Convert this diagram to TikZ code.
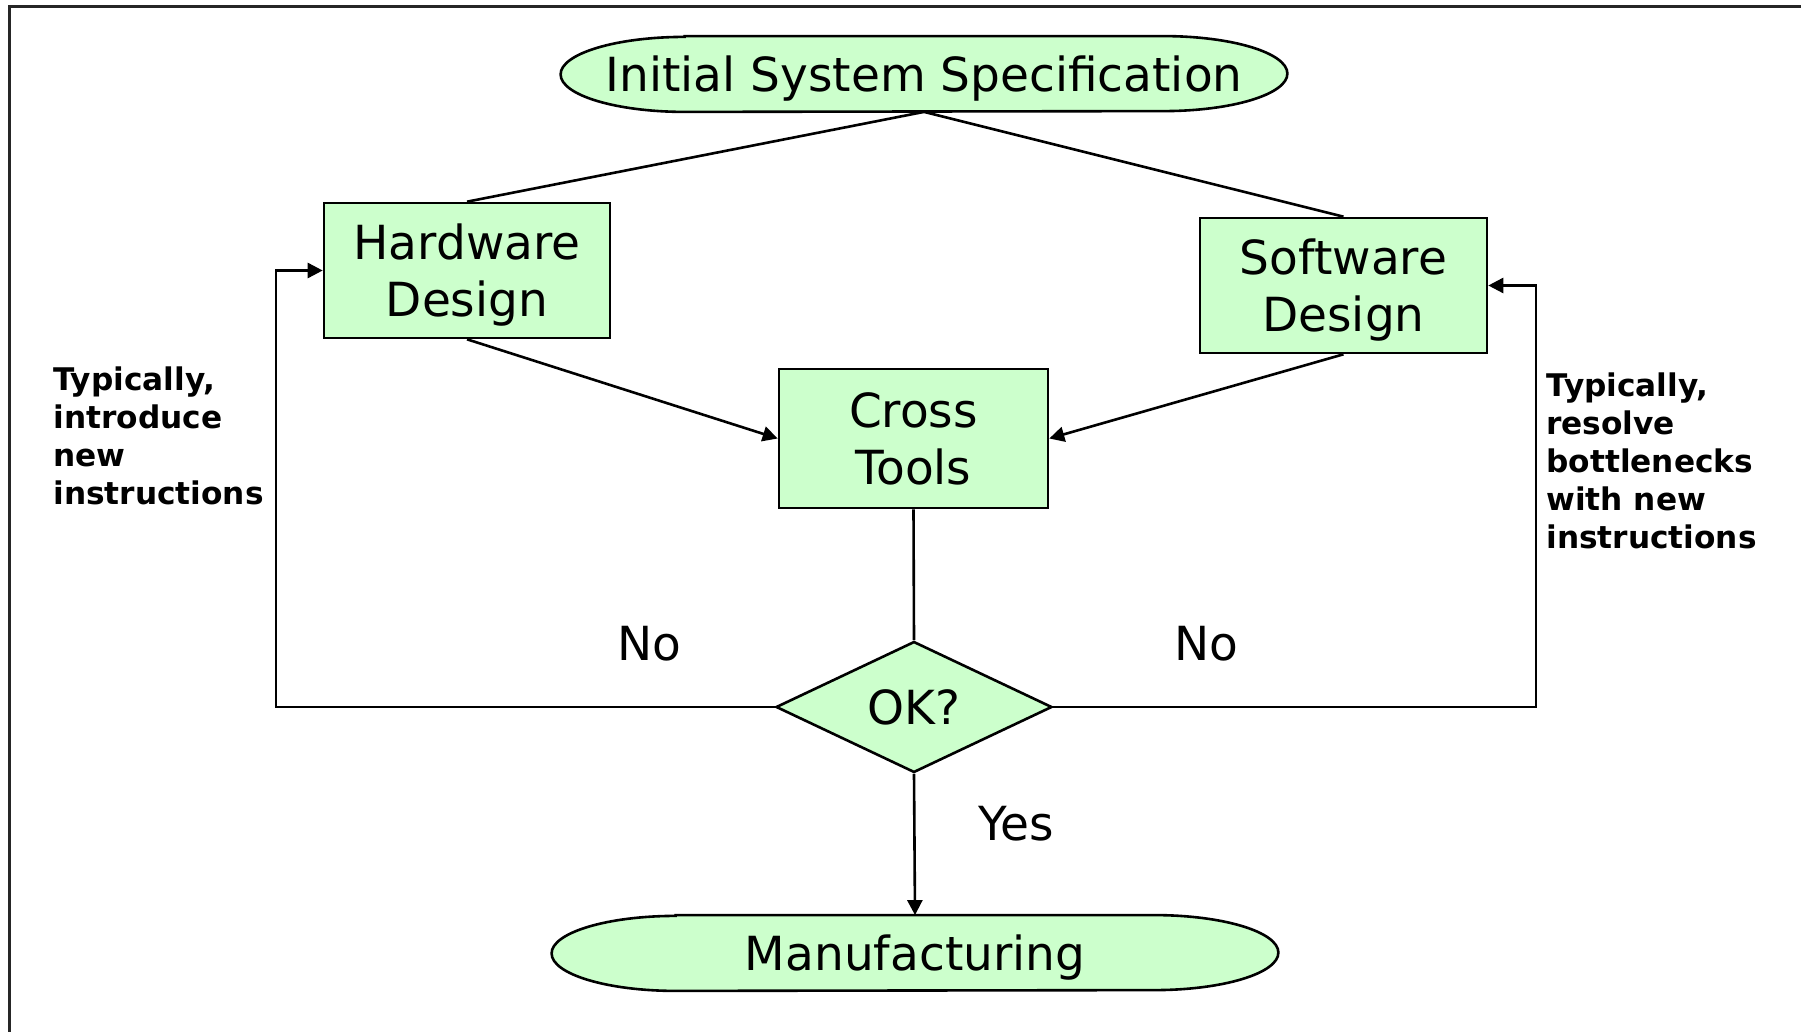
\documentclass[tikz,border=0pt]{standalone}
\usepackage{fontspec}
\setmainfont{DejaVu Sans}
\usepackage{xcolor}
\usepackage{tikz}
\usetikzlibrary{arrows.meta, shapes.geometric, calc, backgrounds}
\definecolor{specgreen}{RGB}{204,255,204}

\begin{document}
\begin{tikzpicture}[
  x=0.5pt, y=-0.5pt,
  box/.style={rectangle, draw=black, line width=1.3pt, fill=specgreen,
    align=center, inner sep=0pt, text depth=0pt,
    font=\fontsize{23.5pt}{28.5pt}\selectfont},
  term/.style={rectangle, minimum width=363pt, minimum height=37.5pt,
    inner sep=0pt, text depth=0pt, font=\fontsize{23.5pt}{28.5pt}\selectfont},
  termline/.style={draw=black, line width=1.3pt, fill=specgreen},
  decision/.style={diamond, draw=black, line width=1.3pt, fill=specgreen,
    aspect=2.1, inner sep=0pt, minimum width=138pt, minimum height=65.5pt,
    font=\fontsize{23.5pt}{28.5pt}\selectfont},
  note/.style={anchor=west, align=left, inner sep=0pt,
    font=\fontsize{15.6pt}{19pt}\selectfont\bfseries},
  lbl/.style={inner sep=0pt, font=\fontsize{23.5pt}{28.5pt}\selectfont},
  conn/.style={line width=1.3pt},
  arr/.style={conn, -{Triangle[length=7.5pt, width=7.5pt]}}
]
\useasboundingbox (0,0) rectangle (1801,1032);

\node[term] (init) at (924,74) {Initial System Specification};
\node[box, minimum width=143pt, minimum height=67.5pt] (hw) at (467,270.5) {Hardware\\Design};
\node[box, minimum width=143.5pt, minimum height=67.5pt] (sw) at (1343.5,285.5) {Software\\Design};
\node[box, minimum width=134.5pt, minimum height=69.5pt] (cross) at (913.5,438.5) {Cross\\Tools};
\node[decision] (ok) at (914,707) {OK?};
\node[term] (manu) at (915,953) {Manufacturing};

\node[lbl] (nol) at (649,644) {No};
\node[lbl] (nor) at (1206,644) {No};
\node[lbl] (yes) at (1016,824) {Yes};
\node[note] (hwnote) at (53,436) {Typically,\\introduce\\new\\instructions};
\node[note] (swnote) at (1546,461) {Typically,\\resolve\\bottlenecks\\with new\\instructions};

\coordinate (hwloop) at (276,0);
\coordinate (swloop) at (1536,0);

\draw[conn] (init.south) -- (hw.north);
\draw[conn] (init.south) -- (sw.north);
\draw[arr] (hw.south) -- (cross.west);
\draw[arr] (sw.south) -- (cross.east);
\draw[conn] (cross.south) -- (ok.north);
\draw[arr] (ok.south) -- (manu.north);
\draw[arr] (ok.west) -- (ok.west -| hwloop) |- (hw.west);
\draw[arr] (ok.east) -- (ok.east -| swloop) |- (sw.east);

\draw[line width=1.5pt, black!85] (9,1032) -- (9,7) -- (1801,7);

\begin{scope}[on background layer]
\fill[white] (0,0) rectangle (1801,1032);
\foreach \t in {init, manu} {
  \draw[termline] ($(\t.north west)+(62pt,0)$) -- ($(\t.north east)+(-62pt,0)$)
    arc[start angle=90, end angle=-90, x radius=62pt, y radius=18.75pt]
    -- ($(\t.south west)+(62pt,0)$)
    arc[start angle=270, end angle=90, x radius=62pt, y radius=18.75pt] -- cycle;
}
\end{scope}
\end{tikzpicture}
\end{document}
